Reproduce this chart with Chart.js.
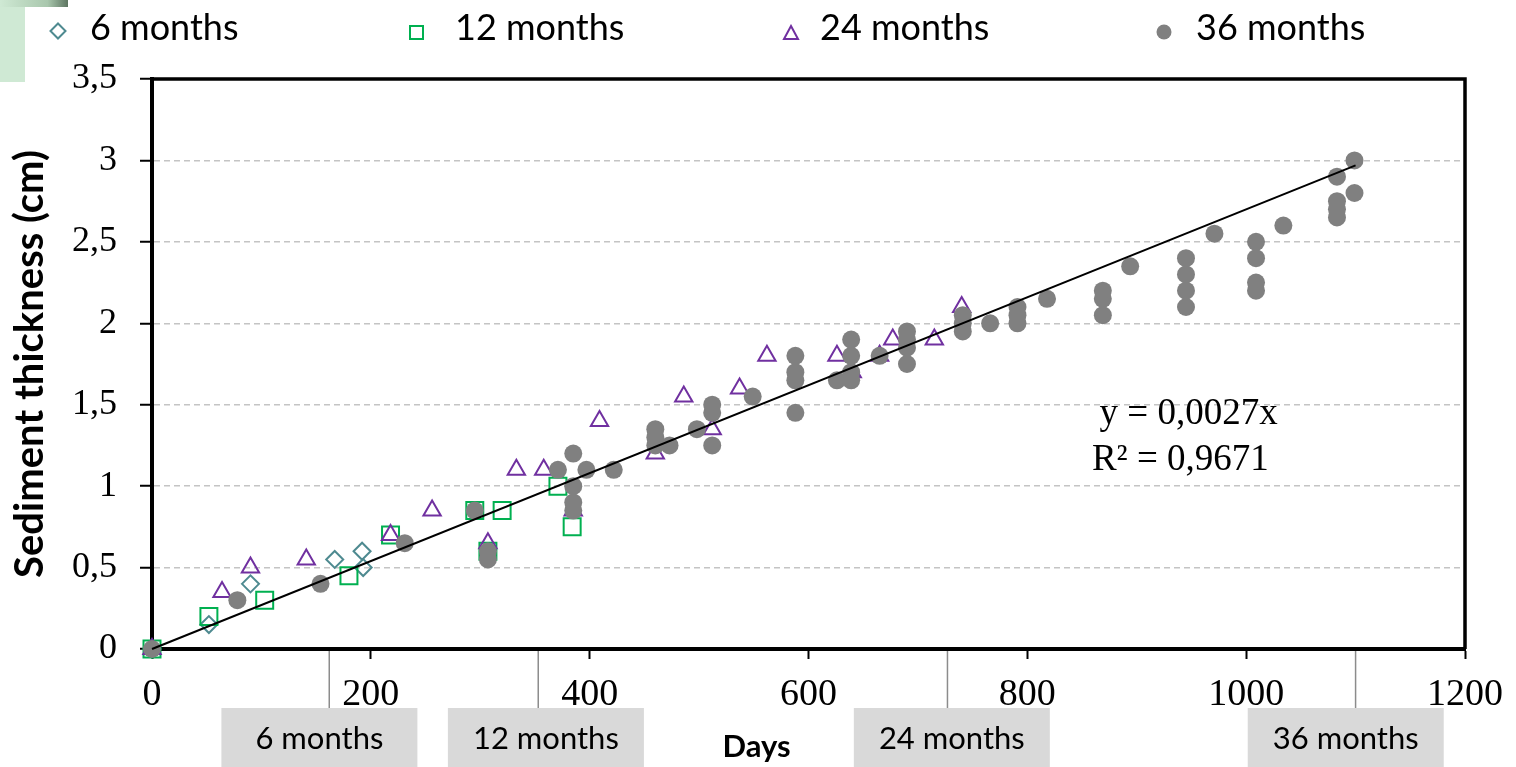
<!DOCTYPE html>
<html>
<head>
<meta charset="utf-8">
<title>Sediment thickness</title>
<script src="https://cdn.jsdelivr.net/npm/chart.js@4.4.0/dist/chart.umd.min.js"></script>
<style>
  html, body { margin: 0; padding: 0; background: #fff; }
  #wrap { position: relative; width: 1516px; height: 767px; overflow: hidden; }
  #chart { position: absolute; left: 0; top: 0; }
  .corner { position: absolute; left: 0; top: 0; width: 25px; height: 82px; background: #cfe9d4; }
  .corner-top { position: absolute; left: 0; top: 0; width: 68px; height: 7px;
    background: linear-gradient(to right, #cfe9d4, #a9c7ad 70%, #5d7561); }
  .legend-text { position: absolute; top: 8px; font-family: Lato, sans-serif; font-size: 36px;
    line-height: 36px; color: #000; white-space: nowrap; }
  .legend-mark { position: absolute; }
</style>
</head>
<body>
<div id="wrap">
  <canvas id="chart" width="1516" height="767"></canvas>
  <div class="corner"></div>
  <div class="corner-top"></div>

  <svg class="legend-mark" style="left:49px;top:22px" width="18" height="18">
    <polygon points="9,1.5 16.5,9 9,16.5 1.5,9" fill="none" stroke="#4e8a90" stroke-width="2"/>
  </svg>
  <div class="legend-text" style="left:90px">6 months</div>

  <svg class="legend-mark" style="left:408px;top:24px" width="18" height="18">
    <rect x="2" y="2" width="13" height="13" fill="none" stroke="#00b050" stroke-width="2"/>
  </svg>
  <div class="legend-text" style="left:455px">12 months</div>

  <svg class="legend-mark" style="left:782px;top:24px" width="18" height="18">
    <polygon points="9,2 16,15 2,15" fill="none" stroke="#7030a0" stroke-width="2"/>
  </svg>
  <div class="legend-text" style="left:820px">24 months</div>

  <svg class="legend-mark" style="left:1155px;top:23px" width="18" height="18">
    <circle cx="9" cy="9" r="7.5" fill="#808080"/>
  </svg>
  <div class="legend-text" style="left:1196px">36 months</div>
</div>

<script>
// --- data ---
const days6 = [0, 52, 90, 167, 192, 193];
const thick6 = [0, 0.15, 0.40, 0.55, 0.60, 0.50];

const days12 = [0, 52, 103, 180, 218, 295, 307, 320, 371, 384];
const thick12 = [0, 0.20, 0.30, 0.45, 0.70, 0.85, 0.60, 0.85, 1.00, 0.75];

const days24 = [0, 64, 90, 141, 218, 256, 307, 333, 358, 385, 409, 460, 486, 512, 537, 562, 626, 640, 665, 677, 715, 740];
const thick24 = [0, 0.35, 0.50, 0.55, 0.70, 0.85, 0.65, 1.10, 1.10, 0.85, 1.40, 1.20, 1.55, 1.35, 1.60, 1.80, 1.80, 1.70, 1.80, 1.90, 1.90, 2.10];

const days36 = [0, 78, 154, 231, 295, 307, 307, 371, 385, 385, 385, 385, 397, 422,
  460, 460, 460, 473, 498, 512, 512, 512, 549, 588, 588, 588, 588, 626,
  639, 639, 639, 639, 665, 690, 690, 690, 690, 741, 741, 741, 766, 791, 791, 791,
  818, 869, 869, 869, 894, 945, 945, 945, 945, 971, 1009, 1009, 1009, 1009, 1034,
  1083, 1083, 1083, 1083, 1099, 1099];
const thick36 = [0, 0.30, 0.40, 0.65, 0.85, 0.60, 0.55, 1.10, 1.20, 1.00, 0.90, 0.85, 1.10, 1.10,
  1.35, 1.30, 1.25, 1.25, 1.35, 1.50, 1.45, 1.25, 1.55, 1.80, 1.70, 1.65, 1.45, 1.65,
  1.90, 1.80, 1.70, 1.65, 1.80, 1.95, 1.90, 1.85, 1.75, 2.05, 2.00, 1.95, 2.00, 2.10, 2.05, 2.00,
  2.15, 2.20, 2.15, 2.05, 2.35, 2.40, 2.30, 2.20, 2.10, 2.55, 2.50, 2.40, 2.25, 2.20, 2.60,
  2.90, 2.75, 2.70, 2.65, 3.00, 2.80];

// linear fit through origin (from the equation on the chart)
const trendSlope = 0.0027;
const trendEndDay = 1100;
const equationLines = ['y = 0,0027x', 'R\u00B2 = 0,9671'];

// sampling periods marked under the x axis
const periodDays = [162, 353, 727, 1100];      // grey tick lines
const periodLabelDays = [153, 360, 731, 1091]; // box centres
const periodLabels = ['6 months', '12 months', '24 months', '36 months'];

const xTickLabels = ['0', '200', '400', '600', '800', '1000', '1200'];
const yTickLabels = ['0', '0,5', '1', '1,5', '2', '2,5', '3', '3,5'];

const xTitle = 'Days';
const yTitle = 'Sediment thickness (cm)';

// --- helpers ---
function toPoints(xs, ys) {
  return xs.map((d, i) => ({ x: d, y: ys[i] }));
}

const overlayPlugin = {
  id: 'overlay',
  beforeDatasetsDraw(chart) {
    // top and right side of the plot frame
    const { ctx, chartArea: a } = chart;
    ctx.save();
    ctx.strokeStyle = '#000';
    ctx.lineWidth = 3.5;
    ctx.beginPath();
    ctx.moveTo(a.left, a.top);
    ctx.lineTo(a.right, a.top);
    ctx.lineTo(a.right, a.bottom);
    ctx.stroke();
    ctx.restore();
  },
  afterDraw(chart) {
    const { ctx, chartArea: a, scales: { x, y } } = chart;
    ctx.save();

    // regression text
    ctx.fillStyle = '#000';
    ctx.font = '37px "Liberation Serif", "Times New Roman", serif';
    ctx.textAlign = 'left';
    ctx.textBaseline = 'alphabetic';
    ctx.fillText(equationLines[0], x.getPixelForValue(866), y.getPixelForValue(1.38));
    ctx.fillText(equationLines[1], x.getPixelForValue(859), y.getPixelForValue(1.10));

    // period markers + grey boxes
    const boxTop = 708;
    periodDays.forEach((d) => {
      const px = x.getPixelForValue(d);
      ctx.strokeStyle = '#8c8c8c';
      ctx.lineWidth = 1.5;
      ctx.beginPath();
      ctx.moveTo(px, a.bottom + 2);
      ctx.lineTo(px, boxTop);
      ctx.stroke();
    });
    periodLabelDays.forEach((d, i) => {
      const cx = x.getPixelForValue(d);
      ctx.fillStyle = '#d9d9d9';
      ctx.fillRect(cx - 98, boxTop, 196, 62);
      ctx.fillStyle = '#000';
      ctx.font = '31px Lato, sans-serif';
      ctx.textAlign = 'center';
      ctx.textBaseline = 'middle';
      ctx.fillText(periodLabels[i], cx, boxTop + 31);
    });

    // x axis title (sits left of centre in the original)
    ctx.fillStyle = '#000';
    ctx.font = 'bold 31px Lato, sans-serif';
    ctx.textAlign = 'center';
    ctx.textBaseline = 'alphabetic';
    ctx.fillText(xTitle, (a.left + a.right) / 2 - 52, 757);

    ctx.restore();
  }
};

// --- chart ---
const ctx = document.getElementById('chart').getContext('2d');

new Chart(ctx, {
  type: 'scatter',
  data: {
    datasets: [
      {
        type: 'line',
        label: 'trend',
        data: [{ x: 0, y: 0 }, { x: trendEndDay, y: trendSlope * trendEndDay }],
        borderColor: '#000',
        borderWidth: 2,
        pointRadius: 0,
        fill: false,
        clip: false,
        order: 0
      },
      {
        label: '36 months',
        data: toPoints(days36, thick36),
        pointStyle: 'circle',
        pointRadius: 9,
        backgroundColor: '#808080',
        borderColor: '#808080',
        borderWidth: 0,
        clip: false,
        order: 1
      },
      {
        label: '24 months',
        data: toPoints(days24, thick24),
        pointStyle: 'triangle',
        pointRadius: 10,
        backgroundColor: 'rgba(0,0,0,0)',
        borderColor: '#7030a0',
        borderWidth: 2,
        clip: false,
        order: 2
      },
      {
        label: '12 months',
        data: toPoints(days12, thick12),
        pointStyle: 'rect',
        pointRadius: 12,
        backgroundColor: 'rgba(0,0,0,0)',
        borderColor: '#00b050',
        borderWidth: 2,
        clip: false,
        order: 3
      },
      {
        label: '6 months',
        data: toPoints(days6, thick6),
        pointStyle: 'rectRot',
        pointRadius: 8.5,
        backgroundColor: 'rgba(0,0,0,0)',
        borderColor: '#4e8a90',
        borderWidth: 2,
        clip: false,
        order: 4
      }
    ]
  },
  options: {
    responsive: false,
    animation: false,
    events: [],
    layout: { padding: { top: 79, right: 49, left: 0, bottom: 0 } },
    plugins: {
      legend: { display: false },
      tooltip: { enabled: false }
    },
    scales: {
      x: {
        type: 'linear',
        min: 0,
        max: 1200,
        afterFit: (scale) => { scale.height = 118; },
        ticks: {
          stepSize: 200,
          color: '#000',
          padding: 13,
          maxRotation: 0,
          font: { family: '"Liberation Serif", "Times New Roman", serif', size: 38 },
          callback: (v, i) => xTickLabels[i]
        },
        grid: {
          drawOnChartArea: false,
          drawTicks: true,
          tickLength: 10,
          tickWidth: 2,
          tickColor: '#000'
        },
        border: { display: true, color: '#000', width: 4 }
      },
      y: {
        type: 'linear',
        min: 0,
        max: 3.5,
        afterFit: (scale) => { scale.width = 152; },
        ticks: {
          stepSize: 0.5,
          color: '#000',
          padding: 23,
          font: { family: '"Liberation Serif", "Times New Roman", serif', size: 36 },
          callback: (v, i) => yTickLabels[i]
        },
        grid: {
          color: '#c4c4c4',
          lineWidth: 1.5,
          drawTicks: true,
          tickLength: 12,
          tickWidth: 2,
          tickColor: '#000'
        },
        border: { display: true, color: '#000', width: 4, dash: [6, 4] },
        title: {
          display: true,
          text: yTitle,
          color: '#000',
          font: { family: 'Lato, sans-serif', weight: 'bold', size: 40 },
          padding: { top: 6, bottom: 0 }
        }
      }
    }
  },
  plugins: [overlayPlugin]
});
</script>
</body>
</html>
